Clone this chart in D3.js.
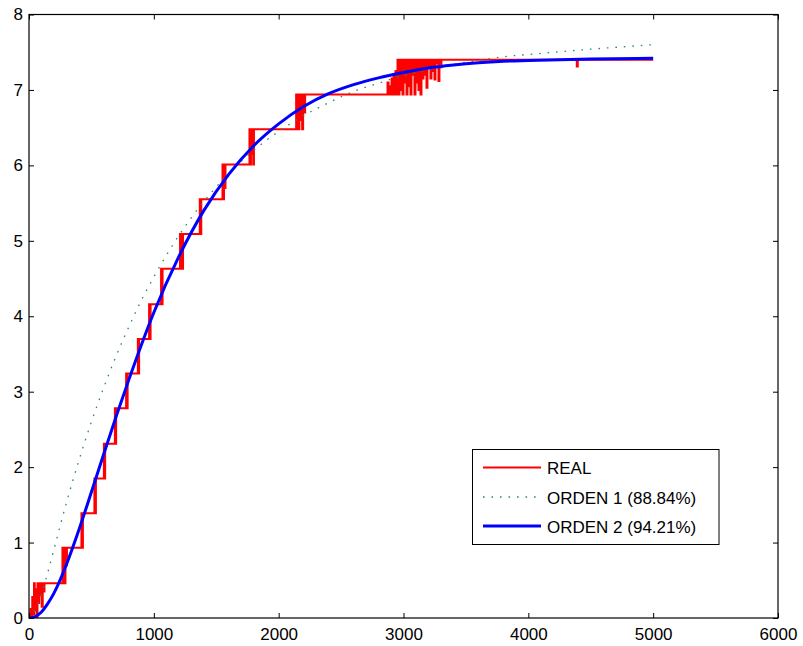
<!DOCTYPE html>
<html>
<head>
<meta charset="utf-8">
<script src="https://cdn.jsdelivr.net/npm/d3@7"></script>
<style>
  html, body { margin: 0; padding: 0; background: #fff; }
  svg { display: block; }
  text { font-family: "Liberation Sans", Arial, sans-serif; }
</style>
</head>
<body>
<svg id="chart" width="803" height="646"></svg>
<script>
// ---------- DATA ----------
const xTicks = [0, 1000, 2000, 3000, 4000, 5000, 6000];
const yTicks = [0, 1, 2, 3, 4, 5, 6, 7, 8];

const seriesNames = ["REAL", "ORDEN 1 (88.84%)", "ORDEN 2 (94.21%)"];

// REAL: measured staircase signal (value holds until next time)
const realT = [
  0, 12, 18, 26, 32, 40, 46, 54, 60, 68, 74, 82, 88, 96, 102, 110, 116, 124, 130,
  268, 274, 280, 286, 292, 298, 304,
  420, 426, 432,
  524, 530, 536,
  600, 605, 610,
  688, 693, 698,
  778, 784, 790,
  872, 877, 882,
  962, 968, 974,
  1058, 1064, 1070,
  1210, 1216, 1222, 1228, 1234,
  1368, 1374, 1380,
  1550, 1556, 1562, 1568, 1574,
  1766, 1772, 1778, 1784, 1790, 1796, 1802,
  2140, 2146, 2152, 2158, 2166, 2172, 2180, 2188, 2196, 2204, 2212,
  2872, 2880, 2888, 2896, 2904, 2912, 2920, 2928, 2936, 2944, 2952, 2960,
  2968, 2976, 2984, 2992, 3000, 3008, 3016, 3024, 3032, 3040, 3048, 3056, 3064,
  3072, 3080, 3088, 3096, 3104, 3112, 3120, 3128, 3136, 3144, 3152, 3160,
  3168, 3176, 3184, 3192, 3200, 3208, 3216, 3224, 3232, 3240, 3248, 3256, 3264,
  3272, 3280, 3288, 3296, 3304, 3312,
  4388, 4396, 5000
];
const realY = [
  0, 0.12, 0, 0.28, 0.05, 0.46, 0.10, 0.38, 0, 0.46, 0.20, 0.46, 0.30, 0.46, 0.15, 0.46, 0.35, 0.46, 0.46,
  0.93, 0.46, 0.93, 0.46, 0.93, 0.70, 0.93,
  1.39, 0.93, 1.39,
  1.85, 1.39, 1.85,
  2.31, 1.85, 2.31,
  2.78, 2.31, 2.78,
  3.24, 2.78, 3.24,
  3.70, 3.24, 3.70,
  4.16, 3.70, 4.16,
  4.63, 4.16, 4.63,
  5.09, 4.63, 5.09, 4.63, 5.09,
  5.55, 5.09, 5.55,
  6.01, 5.55, 6.01, 5.70, 6.01,
  6.48, 6.01, 6.48, 6.15, 6.48, 6.01, 6.48,
  6.94, 6.48, 6.94, 6.48, 6.94, 6.60, 6.94, 6.48, 6.94, 6.70, 6.94,
  7.10, 6.94, 7.05, 6.94, 7.15, 6.94, 7.20, 6.94, 7.25, 6.94, 7.40, 6.94,
  7.40, 7.00, 7.40, 6.94, 7.40, 7.10, 7.40, 6.94, 7.40, 7.05, 7.40, 6.94, 7.40,
  7.20, 7.40, 6.94, 7.40, 7.10, 7.40, 7.00, 7.40, 6.94, 7.40, 7.15, 7.40,
  7.20, 7.40, 7.03, 7.40, 7.30, 7.40, 7.15, 7.40, 7.25, 7.40, 7.14, 7.40, 7.35,
  7.40, 7.12, 7.40, 7.30, 7.40, 7.40,
  7.31, 7.40, 7.40
];

// ORDEN 1 model response
const o1T = [0, 50, 100, 150, 200, 300, 400, 500, 600, 700, 800, 900, 1000, 1200, 1400, 1600, 1800, 2000, 2200, 2400, 2600, 2800, 3000, 3200, 3400, 3600, 3800, 4000, 4500, 5000];
const o1Y = [0, 0.12, 0.32, 0.60, 0.91, 1.53, 2.09, 2.60, 3.06, 3.48, 3.86, 4.21, 4.52, 5.07, 5.52, 5.89, 6.20, 6.45, 6.66, 6.83, 6.98, 7.09, 7.19, 7.27, 7.34, 7.39, 7.44, 7.47, 7.54, 7.60];

// ORDEN 2 model response
const o2T = [0, 50, 100, 150, 200, 300, 400, 500, 600, 700, 800, 900, 1000, 1200, 1400, 1600, 1800, 2000, 2200, 2400, 2600, 2800, 3000, 3200, 3400, 3600, 3800, 4000, 4500, 5000];
const o2Y = [0, 0.02, 0.08, 0.19, 0.33, 0.71, 1.17, 1.67, 2.18, 2.68, 3.16, 3.62, 4.05, 4.79, 5.40, 5.88, 6.26, 6.55, 6.78, 6.95, 7.07, 7.16, 7.23, 7.29, 7.33, 7.36, 7.38, 7.39, 7.41, 7.42];

// ---------- CHART ----------
const svg = d3.select("#chart");
const m = { left: 29, right: 25, top: 14.5, bottom: 28 };
const W = 803, H = 646;
const x = d3.scaleLinear().domain([0, 6000]).range([m.left, W - m.right]);
const y = d3.scaleLinear().domain([0, 8]).range([H - m.bottom, m.top]);

const zip = (a, b) => a.map((v, i) => [v, b[i]]);
const realData = zip(realT, realY);
const o1Data = zip(o1T, o1Y);
const o2Data = zip(o2T, o2Y);

const clipId = "plotclip";
svg.append("defs").append("clipPath").attr("id", clipId)
  .append("rect").attr("x", m.left).attr("y", m.top)
  .attr("width", x.range()[1] - m.left).attr("height", y.range()[0] - m.top);

const plot = svg.append("g").attr("clip-path", `url(#${clipId})`);

const lineStep = d3.line().x(d => x(d[0])).y(d => y(d[1])).curve(d3.curveStepAfter);
const lineSmooth = d3.line().x(d => x(d[0])).y(d => y(d[1])).curve(d3.curveMonotoneX);

const colors = { real: "#ff0000", o1: "#2a8a6a", o2: "#0000ff" };

plot.append("path").datum(realData).attr("d", lineStep)
  .attr("fill", "none").attr("stroke", colors.real).attr("stroke-width", 2)
  .attr("stroke-linejoin", "miter");

plot.append("path").datum(o1Data).attr("d", lineSmooth)
  .attr("fill", "none").attr("stroke", colors.o1).attr("stroke-width", 1.3)
  .attr("stroke-dasharray", "1.6,6.9");

plot.append("path").datum(o2Data).attr("d", lineSmooth)
  .attr("fill", "none").attr("stroke", colors.o2).attr("stroke-width", 3);

// Axes
const fontSize = 17;
const fmt = d3.format("d");
const xAxis = svg.append("g").attr("transform", `translate(0,${y(0)})`)
  .call(d3.axisBottom(x).tickValues(xTicks).tickFormat(fmt).tickSize(-5).tickPadding(10).tickSizeOuter(0));
const yAxis = svg.append("g").attr("transform", `translate(${x(0)},0)`)
  .call(d3.axisLeft(y).tickValues(yTicks).tickFormat(fmt).tickSize(-5).tickPadding(6).tickSizeOuter(0));
const xTop = svg.append("g").attr("transform", `translate(0,${y(8)})`)
  .call(d3.axisTop(x).tickValues(xTicks).tickSize(-5).tickFormat("").tickSizeOuter(0));
const yRight = svg.append("g").attr("transform", `translate(${x(6000)},0)`)
  .call(d3.axisRight(y).tickValues(yTicks).tickSize(-5).tickFormat("").tickSizeOuter(0));

[xAxis, yAxis, xTop, yRight].forEach(g => {
  g.select(".domain").remove();
  g.selectAll(".tick line").attr("stroke", "#000").attr("stroke-width", 1);
  g.selectAll(".tick text").attr("fill", "#000")
    .style("font-size", fontSize + "px")
    .style("font-family", "'Liberation Sans', Arial, sans-serif");
});

svg.append("rect")
  .attr("x", x(0)).attr("y", y(8))
  .attr("width", x(6000) - x(0)).attr("height", y(0) - y(8))
  .attr("fill", "none").attr("stroke", "#000").attr("stroke-width", 1.2);

// Legend
const lg = svg.append("g");
const lx = 472.5, ly = 449.5, lw = 246.5, lh = 95;
lg.append("rect").attr("x", lx).attr("y", ly).attr("width", lw).attr("height", lh)
  .attr("fill", "#fff").attr("stroke", "#000").attr("stroke-width", 1);
const legendItems = [
  { name: seriesNames[0], color: colors.real, width: 2, dash: null },
  { name: seriesNames[1], color: colors.o1, width: 1.3, dash: "1.6,6.9" },
  { name: seriesNames[2], color: colors.o2, width: 3, dash: null }
];
const rowY = [467.5, 497, 526];
legendItems.forEach((it, i) => {
  const l = lg.append("line").attr("x1", 483).attr("x2", 541)
    .attr("y1", rowY[i]).attr("y2", rowY[i])
    .attr("stroke", it.color).attr("stroke-width", it.width);
  if (it.dash) l.attr("stroke-dasharray", it.dash);
  lg.append("text").attr("x", 547).attr("y", rowY[i] + 6.5)
    .attr("fill", "#000").style("font-size", fontSize + "px").text(it.name);
});
</script>
</body>
</html>
